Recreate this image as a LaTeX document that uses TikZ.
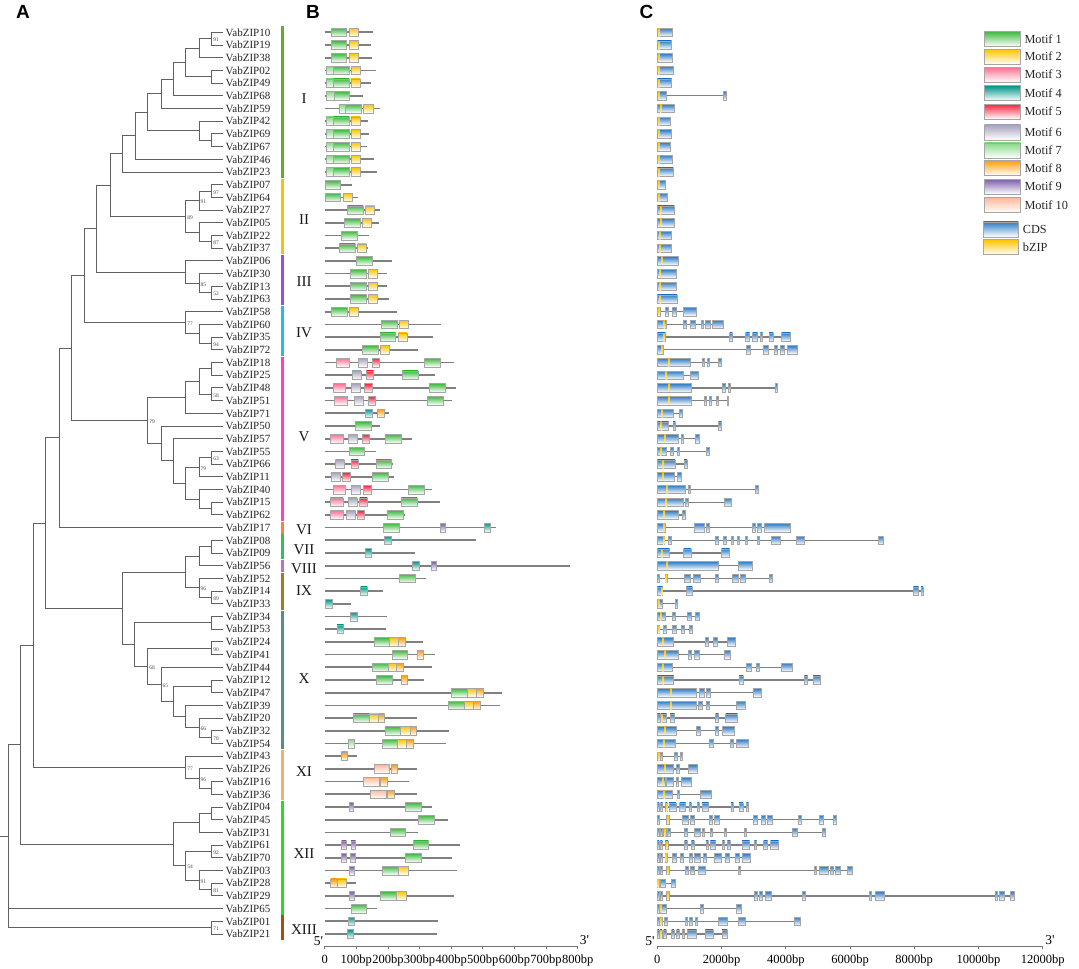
\documentclass[tikz,border=0pt]{standalone}
\usepackage{fontspec}
\setmainfont{Liberation Serif}
\newfontfamily\hfont{Liberation Sans}
\newfontfamily\rawserif[Ligatures=Common]{Liberation Serif}
\usetikzlibrary{calc}
\definecolor{mc1}{HTML}{3DB83D}
\definecolor{mc2}{HTML}{FFC400}
\definecolor{mc3}{HTML}{FF6F91}
\definecolor{mc4}{HTML}{00968A}
\definecolor{mc5}{HTML}{FF1F3D}
\definecolor{mc6}{HTML}{A7A3BC}
\definecolor{mc7}{HTML}{86D886}
\definecolor{mc8}{HTML}{FF9D0A}
\definecolor{mc9}{HTML}{7B5CA8}
\definecolor{mc10}{HTML}{FFB898}
\definecolor{cdsc}{HTML}{2F7BC4}
\definecolor{bzc}{HTML}{FFC400}
\definecolor{gI}{HTML}{5CB030}
\definecolor{gII}{HTML}{F5C400}
\definecolor{gIII}{HTML}{9B4DE0}
\definecolor{gIV}{HTML}{20C0E0}
\definecolor{gV}{HTML}{FF40C0}
\definecolor{gVI}{HTML}{FF7F40}
\definecolor{gVII}{HTML}{30C060}
\definecolor{gVIII}{HTML}{C070C0}
\definecolor{gIX}{HTML}{A07C20}
\definecolor{gX}{HTML}{4F8F8F}
\definecolor{gXI}{HTML}{F0B070}
\definecolor{gXII}{HTML}{20E020}
\definecolor{gXIII}{HTML}{A05010}
\tikzset{
  treeline/.style={draw=black!62, line width=0.9pt},
  leaf/.style={anchor=west, inner xsep=2.5pt, inner ysep=0pt, font=\fontsize{11}{12}\selectfont, text=black!85},
  boot/.style={anchor=west, inner sep=0.6pt, xshift=0.8pt, yshift=-1.2pt, font=\fontsize{5.5}{6}\selectfont, text=black!70},
  grp/.style={font=\fontsize{15}{16}\selectfont, text=black!90},
  panel/.style={font=\hfont\bfseries\fontsize{19}{20}\selectfont},
  bline/.style={draw=black!50, line width=1.7pt},
  intron/.style={draw=black!50, line width=1.3pt},
  mf/.style={draw=black!35, line width=0.5pt, top color=mc#1, bottom color=white},
  cds/.style={draw=black!35, line width=0.5pt, top color=cdsc, bottom color=white},
  bzs/.style={top color=bzc, bottom color=bzc!35},
  axl/.style={draw=black!55, line width=0.9pt},
  tick/.style={font=\fontsize{12.5}{13}\selectfont, anchor=north, inner sep=0pt},
  endl/.style={font=\rawserif\fontsize{13.5}{14}\selectfont, inner sep=0pt},
  legt/.style={font=\fontsize{12.3}{13}\selectfont, anchor=west, inner sep=0pt, text=black!85}
}
\newcommand\clade[5][]{%
  \coordinate (xc) at (#3,0);
  \coordinate (ta) at (#4 -| xc);
  \coordinate (tb) at (#5 -| xc);
  \coordinate (#2) at ($(ta)!0.5!(tb)$);
  \draw[treeline] (#4) -- (ta) -- (tb) -- (#5);
  \ifx\relax#1\relax\else\node[boot] (b#2) at (#2) {#1};\fi
}
\newcommand\grpbar[5]{% color, first, last, label, label y
  \draw[line width=2.8pt, draw=#1] (282.7,{19.6+12.7*#2-5.9}) -- (282.7,{19.6+12.7*#3+5.9});
  \node[grp] (lab#1) at (304,#5) {#4};
}
\newcommand\prot[3]{%
  \pgfmathsetmacro\yy{19.6+12.7*#1}
  \draw[bline] (134,\yy) -- (#2,\yy);
  \foreach \t/\a/\b in {#3} {\draw[mf=\t] (\a,\yy-4.3) rectangle (\b,\yy+4.3);}
}
\newcommand\gene[4]{%
  \pgfmathsetmacro\yy{19.6+12.7*#1}
  \draw[intron] (52,\yy) -- (#2,\yy);
  \foreach \a/\b in {#3} {\draw[cds] (\a,\yy-4.2) rectangle (\b,\yy+4.2);}
  \shade[bzs] (#4,\yy-4.0) rectangle ++(4,8.0);
}
\begin{document}
\begin{tikzpicture}[x=1pt,y=-1pt]
\useasboundingbox (0,0) rectangle (1079,969);
\fill[white] (0,0) rectangle (1079,969);
% panel letters
\node[panel] (pA) at (23,12) {A};
\node[panel] (pB) at (313,12) {B};
\node[panel] (pC) at (646.5,12) {C};
% leaves
\foreach \g [count=\i] in {10,19,38,02,49,68,59,42,69,67,46,23,07,64,27,05,22,37,06,30,13,63,58,60,35,72,18,25,48,51,71,50,57,55,66,11,40,15,62,17,08,09,56,52,14,33,34,53,24,41,44,12,47,39,20,32,54,43,26,16,36,04,45,31,61,70,03,28,29,65,01,21}
  \node[leaf] (L\g) at (223,{19.6+12.7*\i}) {VabZIP\g};
% tree
\clade[91]{c1}{211.7}{L10}{L19}
\clade{c2}{199}{c1}{L38}
\clade{c3}{211.7}{L02}{L49}
\clade{c4}{185.7}{c2}{c3}
\clade{c5}{173}{c4}{L68}
\clade{c6}{161}{c5}{L59}
\clade{c7}{211.7}{L69}{L67}
\clade{c8}{199}{L42}{c7}
\clade{c9}{147.7}{c6}{c8}
\clade{c10}{135}{c9}{L46}
\clade{c11}{122.7}{c10}{L23}
\clade[97]{c12}{211.7}{L07}{L64}
\clade[91]{c13}{199}{c12}{L27}
\clade[87]{c14}{211.7}{L22}{L37}
\clade{c15}{199}{L05}{c14}
\clade[89]{c16}{185.7}{c13}{c15}
\clade{c17}{110}{c11}{c16}
\clade[52]{c18}{211.7}{L13}{L63}
\clade[85]{c19}{199}{L30}{c18}
\clade{c20}{185.7}{L06}{c19}
\clade{c21}{96.7}{c17}{c20}
\clade[94]{c22}{211.7}{L35}{L72}
\clade{c23}{199}{L60}{c22}
\clade[77]{c24}{185.7}{L58}{c23}
\clade{c25}{84.3}{c21}{c24}
\clade{c26}{211.7}{L18}{L25}
\clade[58]{c27}{211.7}{L48}{L51}
\clade{c28}{199}{c26}{c27}
\clade{c29}{185.7}{c28}{L71}
\clade[63]{c30}{211.7}{L55}{L66}
\clade[79]{c31}{199}{c30}{L11}
\clade{c32}{211.7}{L15}{L62}
\clade{c33}{199}{L40}{c32}
\clade{c34}{185.7}{c31}{c33}
\clade{c35}{173}{L57}{c34}
\clade{c36}{161}{L50}{c35}
\clade[79]{c37}{147.7}{c29}{c36}
\clade{c38}{71.7}{c25}{c37}
\clade{c39}{59}{c38}{L17}
\clade{c40}{211.7}{L08}{L09}
\clade{c41}{199}{c40}{L56}
\clade[89]{c42}{211.7}{L14}{L33}
\clade[96]{c43}{199}{L52}{c42}
\clade{c44}{185.7}{c41}{c43}
\clade{c45}{211.7}{L34}{L53}
\clade[90]{c46}{211.7}{L24}{L41}
\clade[78]{c47}{211.7}{L32}{L54}
\clade[66]{c48}{199}{L20}{c47}
\clade{c49}{185.7}{L39}{c48}
\clade{c50}{211.7}{L12}{L47}
\clade{c51}{173}{c50}{c49}
\clade[65]{c52}{161}{L44}{c51}
\clade[68]{c53}{147.7}{c46}{c52}
\clade{c54}{134.3}{c45}{c53}
\clade{c55}{122.7}{c44}{c54}
\clade{c56}{45.7}{c39}{c55}
\clade{c57}{211.7}{L16}{L36}
\clade[96]{c58}{199}{L26}{c57}
\clade[77]{c59}{185.7}{L43}{c58}
\clade{c60}{33.3}{c56}{c59}
\clade{c61}{211.7}{L04}{L45}
\clade{c62}{199}{c61}{L31}
\clade[92]{c63}{211.7}{L61}{L70}
\clade[81]{c64}{211.7}{L28}{L29}
\clade[91]{c65}{199}{L03}{c64}
\clade[54]{c66}{185.7}{c63}{c65}
\clade{c67}{173}{c62}{c66}
\clade{c68}{20.7}{c60}{c67}
\clade[71]{c69}{211.7}{L01}{L21}
% root (trichotomy)
\coordinate (xr) at (8,0);
\coordinate (x0) at (0,0);
\coordinate (ra) at (c68 -| xr);
\coordinate (rb) at (c69 -| xr);
\coordinate (root) at ($(ra)!0.5!(rb)$);
\draw[treeline] (c68) -- (ra) -- (rb) -- (c69);
\draw[treeline] (L65) -- (L65 -| xr);
\draw[treeline] (root) -- (root -| x0);
% group bars
\grpbar{gI}{1}{12}{I}{98.3}
\grpbar{gII}{13}{18}{II}{220}
\grpbar{gIII}{19}{22}{III}{281.7}
\grpbar{gIV}{23}{26}{IV}{332.3}
\grpbar{gV}{27}{39}{V}{436.7}
\grpbar{gVI}{40}{40}{VI}{529.3}
\grpbar{gVII}{41}{42}{VII}{550}
\grpbar{gVIII}{43}{43}{VIII}{568.3}
\grpbar{gIX}{44}{46}{IX}{590.7}
\grpbar{gX}{47}{57}{X}{678.3}
\grpbar{gXI}{58}{61}{XI}{771.7}
\grpbar{gXII}{62}{70}{XII}{854}
\grpbar{gXIII}{71}{72}{XIII}{930}
% panel B: motifs
\begin{scope}[shift={(280,0)}, x=0.333333pt]
\prot{1}{278}{1/153/200,2/207/235}
\prot{2}{273}{1/153/200,2/207/235}
\prot{3}{277}{1/154/200,2/207/235}
\prot{4}{288}{7/138/160,1/160/208,2/213/241}
\prot{5}{274}{7/138/160,1/160/208,2/213/241}
\prot{6}{250}{7/140/162,1/162/209}
\prot{7}{299}{7/177/197,1/197/245,2/251/279}
\prot{8}{263}{7/138/160,1/160/208,2/213/241}
\prot{9}{266}{7/138/160,1/160/208,2/213/241}
\prot{10}{262}{7/138/160,1/160/208,2/213/241}
\prot{11}{283}{7/138/160,1/160/208,2/213/241}
\prot{12}{290}{7/138/160,1/160/208,2/213/241}
\prot{13}{217}{1/135/182}
\prot{14}{235}{1/135/182,2/189/217}
\prot{15}{301}{1/202/250,2/256/284}
\prot{16}{298}{1/194/241,2/247/275}
\prot{17}{266}{1/185/233}
\prot{18}{265}{1/178/226,2/232/260}
\prot{19}{337}{1/230/278}
\prot{20}{321}{1/210/258,2/264/292}
\prot{21}{322}{1/210/258,2/264/292}
\prot{22}{327}{1/210/258,2/264/292}
\prot{23}{351}{1/154/201,2/207/235}
\prot{24}{484}{1/304/351,2/358/386}
\prot{25}{460}{1/300/347,2/354/381}
\prot{26}{415}{1/247/295,2/302/329}
\prot{27}{523}{3/169/207,6/234/261,5/278/299,1/434/481}
\prot{28}{466}{6/216/243,5/259/281,1/367/414}
\prot{29}{529}{3/159/197,6/215/242,5/254/276,1/449/497}
\prot{30}{517}{3/163/201,6/222/249,5/265/286,1/443/491}
\prot{31}{327}{4/256/276,8/292/313}
\prot{32}{301}{1/227/274}
\prot{33}{397}{3/152/190,6/206/233,5/246/267,1/317/364}
\prot{34}{289}{1/207/254}
\prot{35}{338}{6/166/193,5/213/235,1/288/335}
\prot{36}{343}{6/155/182,5/188/210,1/277/324}
\prot{37}{457}{3/159/197,6/214/241,5/251/273,1/385/432}
\prot{38}{479}{3/151/189,6/204/231,5/239/261,1/364/411}
\prot{39}{374}{3/152/190,6/199/226,5/232/254,1/323/371}
\prot{40}{647}{1/311/358,9/481/495,4/612/631}
\prot{41}{589}{4/313/333}
\prot{42}{405}{4/256/274}
\prot{43}{869}{4/398/417,9/454/469}
\prot{44}{437}{1/359/406}
\prot{45}{309}{4/242/262}
\prot{46}{212}{4/137/157}
\prot{47}{321}{4/211/231}
\prot{48}{319}{4/171/191}
\prot{49}{430}{1/282/329,2/329/356,8/356/375}
\prot{50}{466}{1/336/383,8/411/430}
\prot{51}{457}{1/277/325,2/325/350,8/350/371}
\prot{52}{432}{1/289/336,8/363/383}
\prot{53}{667}{1/515/563,2/563/590,8/590/609}
\prot{54}{659}{1/506/554,2/554/580,8/580/600}
\prot{55}{410}{1/220/268,2/268/295,8/295/314}
\prot{56}{508}{1/316/362,2/362/390,8/390/409}
\prot{57}{499}{7/204/222,1/306/353,2/353/379,8/379/400}
\prot{58}{230}{8/184/203}
\prot{59}{410}{10/283/329,8/333/352}
\prot{60}{386}{10/250/297,8/302/321}
\prot{61}{411}{10/272/319,8/322/343}
\prot{62}{457}{9/208/220,1/377/424}
\prot{63}{503}{1/415/462}
\prot{64}{415}{1/331/377}
\prot{65}{539}{9/185/199,9/213/227,1/400/446}
\prot{66}{516}{9/184/198,9/212/226,1/377/423}
\prot{67}{530}{9/209/223,1/306/355,2/355/384}
\prot{68}{227}{8/152/173,2/173/200}
\prot{69}{521}{9/209/223,1/301/350,2/350/378}
\prot{70}{292}{1/214/260}
\prot{71}{474}{4/204/224}
\prot{72}{470}{4/201/221}
\end{scope}
% panel C: gene structures
\begin{scope}[shift={(640,0)}, x=0.333333pt]
\gene{1}{97}{52/97}{55}
\gene{2}{95}{52/95}{55}
\gene{3}{96}{52/96}{55}
\gene{4}{100}{52/100}{55}
\gene{5}{95}{52/95}{55}
\gene{6}{258}{52/80,250/258}{55}
\gene{7}{103}{52/103}{60}
\gene{8}{92}{52/92}{55}
\gene{9}{93}{52/93}{55}
\gene{10}{92}{52/92}{55}
\gene{11}{98}{52/98}{55}
\gene{12}{100}{52/100}{55}
\gene{13}{77}{52/77}{55}
\gene{14}{83}{52/83}{55}
\gene{15}{103}{52/103}{60}
\gene{16}{103}{52/103}{60}
\gene{17}{93}{52/93}{58}
\gene{18}{93}{52/93}{58}
\gene{19}{115}{52/115}{63}
\gene{20}{110}{52/110}{59}
\gene{21}{110}{52/110}{59}
\gene{22}{111}{52/111}{59}
\gene{23}{170}{52/60,77/85,97/109,130/170}{54}
\gene{24}{251}{52/80,131/139,150/167,183/191,197/210,217/251}{71}
\gene{25}{452}{52/76,269/277,317/329,338/353,361/368,387/400,425/452}{70}
\gene{26}{471}{52/70,319/331,371/385,403/412,420/432,442/471}{63}
\gene{27}{245}{52/151,187/193,203/208,235/245}{84}
\gene{28}{175}{52/130,152/175}{77}
\gene{29}{412}{52/155,248/256,265/271,405/412}{86}
\gene{30}{266}{52/154,194/200,209/214,229/234,262/266}{85}
\gene{31}{127}{52/99,117/127}{64}
\gene{32}{245}{52/62,64/86,99/106,236/245}{62}
\gene{33}{178}{52/115,123/130,167/178}{72}
\gene{34}{207}{52/80,91/99,113/119,199/207}{60}
\gene{35}{141}{52/105,132/141}{68}
\gene{36}{125}{52/102,111/125}{66}
\gene{37}{354}{52/135,144/151,346/354}{79}
\gene{38}{273}{52/129,137/145,252/273}{77}
\gene{39}{135}{52/116,127/135}{71}
\gene{40}{452}{52/75,162/193,200/207,338/345,352/364,373/452}{71}
\gene{41}{731}{52/72,85/95,226/234,249/260,273/280,291/298,315/322,351/358,395/421,470/493,716/731}{69}
\gene{42}{269}{52/89,131/153,245/269}{64}
\gene{43}{336}{52/236,296/336}{80}
\gene{44}{398}{52/59,75/81,133/152,160/180,226/234,276/294,302/317,389/398}{77}
\gene{45}{849}{52/68,139/157,820/836,843/849}{63}
\gene{46}{112}{52/68,106/112}{55}
\gene{47}{179}{52/75,97/105,143/155,166/179}{60}
\gene{48}{158}{52/58,70/80,98/108,123/134,149/158}{54}
\gene{49}{285}{52/99,195/205,219/232,261/285}{68}
\gene{50}{270}{52/115,145/153,164/178,252/270}{74}
\gene{51}{457}{52/98,319/333,348/358,425/457}{67}
\gene{52}{542}{52/101,297/310,493/503,519/542}{68}
\gene{53}{363}{52/170,177/192,200/211,340/363}{91}
\gene{54}{315}{52/168,175/188,200/209,290/315}{91}
\gene{55}{292}{52/60,62/80,90/104,227/236,257/292}{63}
\gene{56}{283}{52/110,168/181,226/235,246/283}{72}
\gene{57}{326}{52/106,207/221,272/281,290/326}{70}
\gene{58}{127}{52/60,62/68,103/113,120/127}{55}
\gene{59}{173}{52/100,110/118,145/173}{72}
\gene{60}{153}{52/76,78/100,108/115,124/153}{67}
\gene{61}{213}{52/97,111/119,180/213}{71}
\gene{62}{326}{52/57,62/68,76/82,87/108,119/137,148/154,172/178,186/206,273/280,297/309,319/326}{78}
\gene{63}{590}{52/57,80/87,126/145,151/162,209/216,223/237,341/351,365/375,381/397,475/484,539/550,580/590}{82}
\gene{64}{557}{52/57,61/66,70/78,81/90,134/142,163/181,188/193,212/218,252/260,313/320,456/471,548/557}{72}
\gene{65}{416}{52/57,61/67,76/84,134/142,154/163,198/205,211/227,247/254,262/271,306/329,343/350,371/383,392/416}{78}
\gene{66}{330}{52/57,61/67,75/83,98/108,120/130,148/157,162/180,190/198,223/244,255/267,285/297,307/330}{77}
\gene{67}{636}{52/57,61/68,79/89,135/145,152/162,175/195,296/302,523/530,537/565,571/580,587/600,622/636}{81}
\gene{68}{106}{52/58,62/76,93/106}{53}
\gene{69}{1122}{52/57,61/68,79/89,342/352,357/367,376/394,488/496,688/694,705/733,1065/1073,1077/1093,1110/1122}{81}
\gene{70}{303}{52/58,60/78,180/190,289/303}{62}
\gene{71}{480}{52/57,61/67,74/82,135/142,148/157,165/172,234/262,296/316,464/480}{62}
\gene{72}{262}{52/57,60/66,71/79,95/102,110/118,127/134,142/170,196/220,246/262}{61}
\end{scope}
% axis B
\coordinate (bA0) at (324.7,946);
\coordinate (bA1) at (577.7,946);
\draw[axl] (bA0) -- (bA1);
\foreach \k/\lab in {0/0,1/100bp,2/200bp,3/300bp,4/400bp,5/500bp,6/600bp,7/700bp,8/800bp} {
  \draw[axl, line width=0.7pt] ({324.7+31.625*\k},946) -- ++(0,3);
  \node[tick] (bt\k) at ({324.7+31.625*\k},955) {\lab};
}
\node[endl] (b5) at (318.5,941) {5'};
\node[endl] (b3) at (584.5,940) {3'};
% axis C
\coordinate (cA0) at (657.3,946);
\coordinate (cA1) at (1042.7,946);
\draw[axl] (cA0) -- (cA1);
\foreach \k/\lab in {0/0,1/2000bp,2/4000bp,3/6000bp,4/8000bp,5/10000bp,6/12000bp} {
  \draw[axl, line width=0.7pt] ({657.3+64.233*\k},946) -- ++(0,3);
  \node[tick] (ct\k) at ({657.3+64.233*\k},955) {\lab};
}
\node[endl] (c5) at (650,941) {5'};
\node[endl] (c3) at (1050,940) {3'};
% legend
\foreach \k/\yc in {1/38.8,2/56.7,3/74.7,4/93.2,5/111.5,6/132.3,7/150.3,8/168,9/186.5,10/205} {
  \draw[mf=\k] (984.3,\yc-7.5) rectangle (1020.7,\yc+7.5);
  \node[legt] (leg\k) at (1024.3,\yc) {Motif \k};
}
\draw[cds] (983.3,221.8) rectangle (1018.3,236.8);
\node[legt] (legcds) at (1022.7,229.3) {CDS};
\draw[draw=black!35, line width=0.5pt, top color=bzc, bottom color=white] (983.3,239.7) rectangle (1018.3,254.7);
\node[legt] (legbz) at (1022.7,247.2) {bZIP};
\end{tikzpicture}
\end{document}
